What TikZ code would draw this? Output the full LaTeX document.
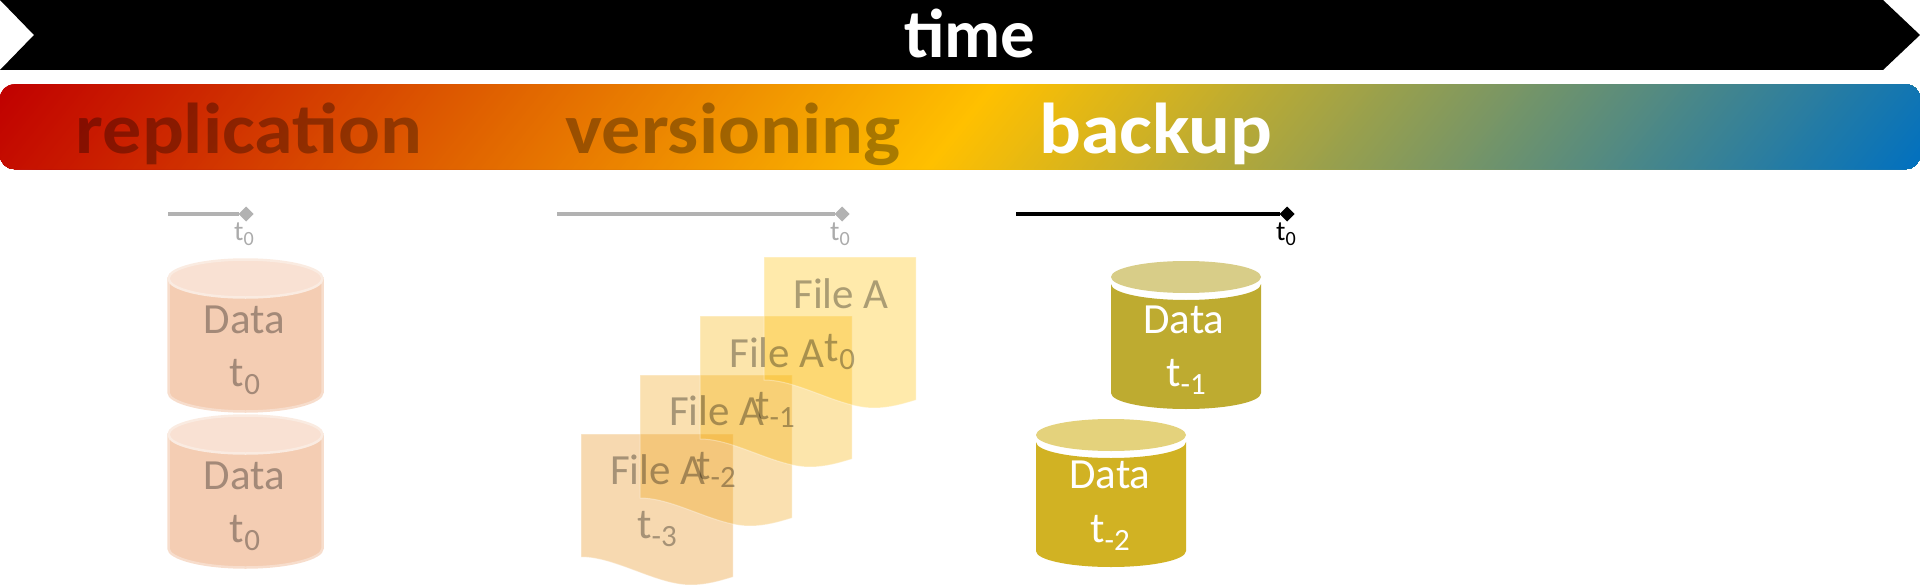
\documentclass[tikz,border=0pt]{standalone}
\usepackage{fontspec}
\setmainfont{Carlito}
\usetikzlibrary{shapes.geometric}
\definecolor{cR}{HTML}{C00000}
\definecolor{cY}{HTML}{FFC000}
\definecolor{cB}{HTML}{0070C0}
\definecolor{lineG}{HTML}{B2B2B2}
\definecolor{docD}{HTML}{E68C10}
\definecolor{docC}{HTML}{EFA210}
\definecolor{docB}{HTML}{F7B000}
\definecolor{docA}{HTML}{FFBE00}
\definecolor{cylOne}{HTML}{BEAB30}
\definecolor{cylOneTop}{HTML}{D8CD88}
\definecolor{cylTwo}{HTML}{D1B223}
\definecolor{cylTwoTop}{HTML}{E4D27C}
\definecolor{cylBody}{HTML}{F4CDB3}
\definecolor{cylEdge}{HTML}{F7DDCC}
\definecolor{cylTop}{HTML}{F9E1D3}
\definecolor{cylTopEdge}{HTML}{FAEBE1}
\newcommand{\subs}[1]{\raisebox{-0.2em}{\scalebox{0.72}{#1}}}
\newcommand{\fsz}[1]{\fontsize{#1}{#1}\selectfont}
\newcommand{\wide}[1]{\scalebox{1.085}[1]{#1}}
\tikzset{
  x=1pt,y=-1pt,
  txt/.style={anchor=base,inner sep=0pt,outer sep=0pt},
  head/.style={txt,font=\fsz{72}\bfseries},
  dim/.style={text=black,text opacity=0.33},
  big/.style={txt,font=\fsz{43}},
  tiny/.style={txt,font=\fsz{28}},
  tick/.style={diamond,inner sep=0pt,minimum size=15pt,outer sep=0pt},
  tline/.style={line width=3.5pt},
  docu/.style={line width=1pt,draw=white,draw opacity=0.35,fill opacity=0.33},
}
\newcommand{\docshape}[3]{% x, y, colour
  \path[docu,fill=#3] (#1,#2) -- +(152,0) -- +(152,143)
    .. controls +(-13,4) and +(15,0) .. +(110,151)
    .. controls +(-35,0) and +(35,0) .. +(0,123) -- cycle;
}
\newcommand{\cylfaded}[2]{% xc, yc
  \begin{scope}[shift={(#1,#2)}]
    \path[fill=cylBody,draw=cylEdge,line width=2.5pt]
      (-77,0) -- (-77,114)
      .. controls +(0,10) and +(-43,0) .. (0,133)
      .. controls +(43,0) and +(0,10) .. (77,114)
      -- (77,0) -- cycle;
    \path[fill=cylTop,draw=cylTopEdge,line width=2.5pt] (0,0) ellipse [x radius=77pt,y radius=19pt];
  \end{scope}
}
\newcommand{\cylsolid}[4]{% xc, yc, body, top
  \begin{scope}[shift={(#1,#2)}]
    \path[fill=#3]
      (-75,7) -- (-75,116)
      .. controls +(0,9) and +(-41,0) .. (0,132)
      .. controls +(41,0) and +(0,9) .. (75,116)
      -- (75,7)
      .. controls +(0,9) and +(41,0) .. (0,23)
      .. controls +(-41,0) and +(0,9) .. (-75,7) -- cycle;
    \path[fill=#4] (0,0) ellipse [x radius=75pt,y radius=16pt];
  \end{scope}
}
\begin{document}
\begin{tikzpicture}
\useasboundingbox (0,0) rectangle (1920,586);
% time arrow
\path[fill=black] (0,0) -- (1883,0) -- (1920,35) -- (1883,70) -- (0,70) -- (34,35) -- cycle;
\node[head,font=\fsz{69}\bfseries,text=white] (time) at (970,58) {time};
% gradient bar
\begin{scope}
  \clip[rounded corners=14pt] (0,84.5) rectangle (1920,169);
  \foreach \u in {-4,0,...,994}{
    \pgfmathsetmacro{\p}{min(100,100-\u/994*100)}
    \fill[color=cR!\p!cY] (\u,84) -- (1925,84) -- (1925,169) -- (\u-68,169) -- cycle;
  }
  \foreach \u in {994,998,...,1990}{
    \pgfmathsetmacro{\p}{max(0,100-(\u-994)/994*100)}
    \fill[color=cY!\p!cB] (\u,84) -- (1925,84) -- (1925,169) -- (\u-68,169) -- cycle;
  }
\end{scope}
\node[head,dim] (replication) at (249,153) {\wide{replication}};
\node[head,dim] (versioning) at (733,153) {\wide{versioning}};
\node[head,text=white] (backup) at (1156,153) {\wide{backup}};
% timelines
\coordinate (lineAs) at (168,214);
\node[tick,fill=lineG] (tickA) at (246,214) {};
\draw[tline,lineG] (lineAs) -- (tickA);
\node[tiny,dim] (labelA) at (244,240) {t\subs{0}};
\coordinate (lineBs) at (557,214);
\node[tick,fill=lineG] (tickB) at (842,214) {};
\draw[tline,lineG] (lineBs) -- (tickB);
\node[tiny,dim] (labelB) at (840,240) {t\subs{0}};
\coordinate (lineCs) at (1016,214);
\node[tick,fill=black] (tickC) at (1287,214) {};
\draw[tline,black] (lineCs) -- (tickC);
\node[tiny,text=black] (labelC) at (1286,240) {t\subs{0}};
% replication cylinders
\cylfaded{245.5}{278.5}
\cylfaded{245.5}{434.5}
\node[big,dim] (dataA) at (244.5,333) {Data};
\node[big,dim] (tA) at (245,386) {t\subs{0}};
\node[big,dim] (dataB) at (244.5,489) {Data};
\node[big,dim] (tB) at (245,542) {t\subs{0}};
% versioned files
\docshape{581}{434}{docD}
\docshape{640}{375}{docC}
\docshape{700}{316}{docB}
\docshape{764}{257}{docA}
\node[big,dim] (fileD) at (658,484) {File A};
\node[big,dim] (tfD) at (657,538) {t\subs{-3}};
\node[big,dim] (fileC) at (717,425) {File A};
\node[big,dim] (tfC) at (716,479) {t\subs{-2}};
\node[big,dim] (fileB) at (777,367) {File A};
\node[big,dim] (tfB) at (775,419) {t\subs{-1}};
\node[big,dim] (fileA) at (841,308) {File A};
\node[big,dim] (tfA) at (840,361) {t\subs{0}};
% backup cylinders
\cylsolid{1186}{277}{cylOne}{cylOneTop}
\cylsolid{1111}{435}{cylTwo}{cylTwoTop}
\node[big,text=white] (dataC) at (1184,333) {Data};
\node[big,text=white] (tC) at (1186,386) {t\subs{-1}};
\node[big,text=white] (dataD) at (1110,488) {Data};
\node[big,text=white] (tD) at (1110,542) {t\subs{-2}};
\end{tikzpicture}
\end{document}
